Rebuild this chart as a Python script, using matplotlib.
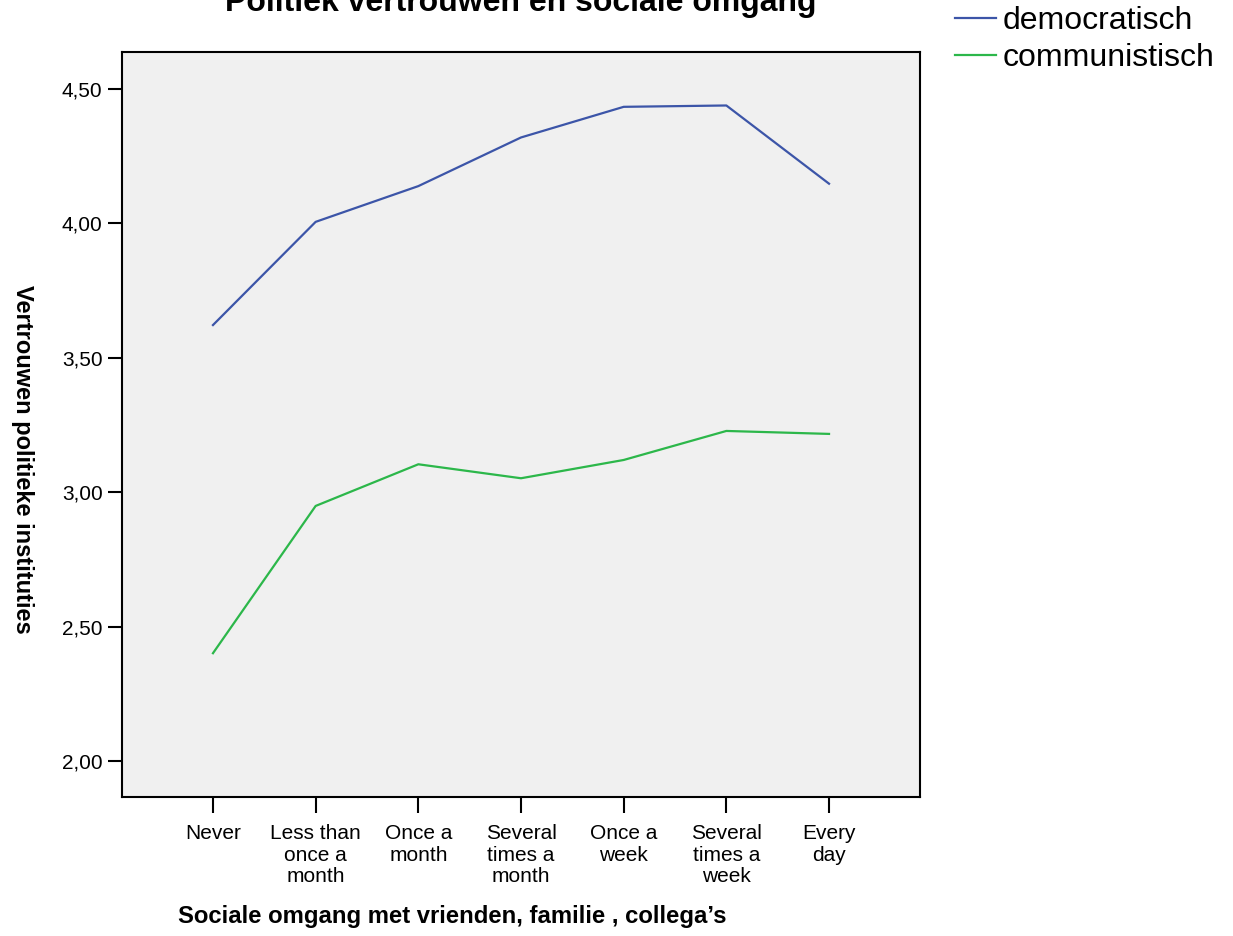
import matplotlib
matplotlib.use("Agg")
import matplotlib.pyplot as plt

plt.rcParams['font.family'] = ['Liberation Sans', 'DejaVu Sans']

categories = ["Never", "Less than\nonce a\nmonth", "Once a\nmonth", "Several\ntimes a\nmonth",
              "Once a\nweek", "Several\ntimes a\nweek", "Every\nday"]
democratisch = [3.622, 4.006, 4.139, 4.320, 4.434, 4.439, 4.148]
communistisch = [2.401, 2.949, 3.104, 3.052, 3.120, 3.228, 3.217]
yticks = [2.0, 2.5, 3.0, 3.5, 4.0, 4.5]
ytick_labels = ["2,00", "2,50", "3,00", "3,50", "4,00", "4,50"]

W, H = 1233, 936
fig = plt.figure(figsize=(W / 100, H / 100), dpi=100)
ax = fig.add_axes([122 / W, 1 - 797 / H, (920 - 122) / W, (797 - 52) / H])
ax.set_facecolor("#f0f0f0")

x = list(range(len(categories)))
l1, = ax.plot(x, democratisch, color="#3c55a8", lw=1.6)
l2, = ax.plot(x, communistisch, color="#2cb74a", lw=1.6)

ax.set_xlim(-0.886, 6.886)
ax.set_ylim(1.866, 4.638)
ax.set_xticks(x)
ax.set_xticklabels(categories, fontsize=15, linespacing=1.18)
ax.set_yticks(yticks)
ax.set_yticklabels(ytick_labels, fontsize=15)
ax.tick_params(axis='y', length=10, width=1.5, color="black", pad=4)
ax.tick_params(axis='x', length=11.5, width=1.5, color="black", pad=8)
for s in ax.spines.values():
    s.set_linewidth(1.5)

fig.text(521 / W, 1 - 11 / H, "Politiek vertrouwen en sociale omgang", ha="center", va="baseline",
         fontsize=23, fontweight="bold")
fig.text(22 / W, 1 - 459 / H, "Vertrouwen politieke instituties", rotation=270, ha="center",
         va="center", fontsize=17, fontweight="bold")
fig.text(178 / W, 1 - 917 / H, "Sociale omgang met vrienden, familie , collega\u2019s", ha="left",
         va="center", fontsize=17.2, fontweight="bold")

fig.legend([l1, l2], ["democratisch", "communistisch"], loc="upper left",
           bbox_to_anchor=(955 / W, 1 - 6 / H), frameon=False, fontsize=23,
           handlelength=1.28, handletextpad=0.2, labelspacing=0.21, borderaxespad=0,
           borderpad=0)

fig.savefig("out.png", dpi=100)
